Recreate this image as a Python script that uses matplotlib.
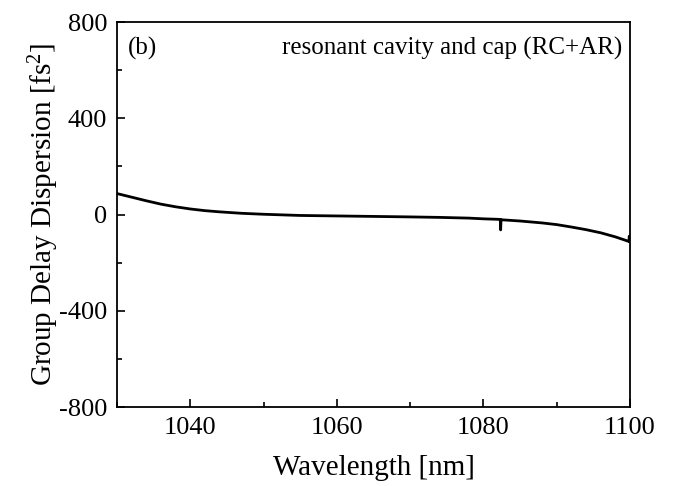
import matplotlib
matplotlib.use("Agg")
import matplotlib.pyplot as plt
from matplotlib.ticker import MultipleLocator

plt.rcParams['font.family'] = ['Liberation Serif', 'DejaVu Serif']
plt.rcParams['mathtext.fontset'] = 'custom'
plt.rcParams['mathtext.rm'] = 'Liberation Serif'
plt.rcParams['mathtext.it'] = 'Liberation Serif:italic'
plt.rcParams['axes.unicode_minus'] = False

# Data
wavelength = [1030, 1032, 1034, 1036, 1038, 1040, 1042, 1044, 1047, 1050,
              1055, 1060, 1065, 1070, 1074, 1078, 1080, 1082, 1082.3, 1082.35,
              1082.4, 1082.5, 1085, 1088, 1090, 1092, 1094, 1096, 1098, 1099.85,
              1099.9, 1100]
gdd = [87, 72, 57, 43, 32, 23, 16, 11, 5, 1,
       -4, -6, -8, -10, -12, -15, -18, -20, -21, -64,
       -21, -22, -27, -35, -42, -52, -63, -76, -93, -112,
       -90, -112]

xticks = [1040, 1060, 1080, 1100]
yticks = [-800, -400, 0, 400, 800]

fig = plt.figure(figsize=(6.75, 4.86), dpi=100)
ax = fig.add_axes([117/675, 1-407/486, (630-117)/675, (407-22)/486])

ax.plot(wavelength, gdd, color='black', lw=2.0)

ax.set_xlim(1030, 1100)
ax.set_ylim(-800, 800)
ax.set_xticks(xticks)
ax.set_yticks(yticks)
ax.xaxis.set_minor_locator(MultipleLocator(10))
ax.yaxis.set_minor_locator(MultipleLocator(200))
ax.tick_params(which='both', direction='in', top=False, right=False, labelsize=19, width=1.2)
ax.tick_params(which='major', length=6, pad=7)
ax.tick_params(which='minor', length=3.5)
for s in ax.spines.values():
    s.set_linewidth(1.3)

ax.set_xlabel('Wavelength [nm]', fontsize=21)
ax.set_ylabel(r'Group Delay Dispersion [fs$^{\mathrm{2}}$]', fontsize=21)
ax.xaxis.set_label_coords(0.5, -0.125)
ax.yaxis.set_label_coords(-0.109, 0.5)

ax.text(0.021, 0.932, '(b)', transform=ax.transAxes, fontsize=18, ha='left', va='center')
ax.text(0.984, 0.932, 'resonant cavity and cap (RC+AR)', transform=ax.transAxes,
        fontsize=18, ha='right', va='center')

fig.savefig('out.png', dpi=100)
